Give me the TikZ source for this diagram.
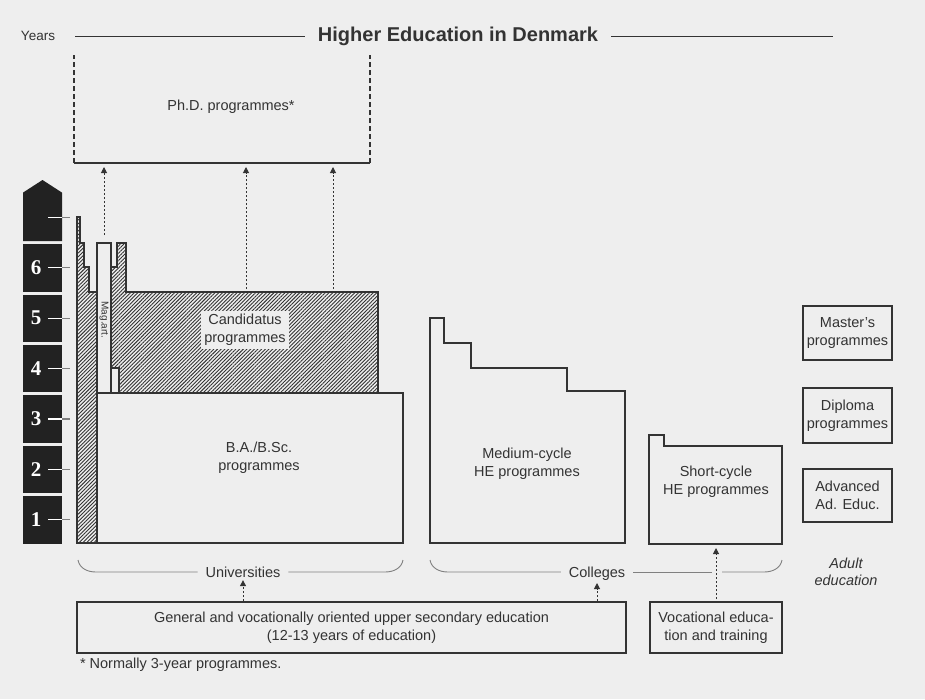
\documentclass[tikz,border=0pt]{standalone}
\usepackage{fontspec}
\setmainfont{Liberation Sans}
\newfontfamily\numfont{Liberation Serif}
\usetikzlibrary{arrows.meta,patterns.meta,positioning}
\definecolor{ink}{HTML}{333333}
\definecolor{paper}{HTML}{EEEEEE}
\definecolor{bar}{HTML}{222222}

\begin{document}
\begin{tikzpicture}[x=1pt, y=-1pt,
    every node/.style={text=ink, font=\fontsize{14.5}{18}\selectfont, align=center, inner sep=0pt, outer sep=0pt},
    box/.style={draw=ink, line width=1.6pt, fill=paper},
    outline/.style={draw=ink, line width=1.6pt, line join=miter},
    hatch/.style={outline, pattern={Lines[angle=45,distance=2.6pt,line width=0.9pt]}, pattern color=ink},
    uparrow/.style={draw=ink, dash pattern=on 2pt off 2pt, line width=1pt, -{Triangle[length=6pt,width=6pt]}, shorten >=4pt, shorten <=3pt},
    brace/.style={draw=gray, line width=0.9pt},
    rule/.style={draw=ink, line width=1pt}]
    \fill[paper] (0,0) rectangle (925,699);
    \useasboundingbox (0,0) rectangle (925,699);

    % heading
    \node[font=\fontsize{13.5}{15}\selectfont] (years) at (38,36) {Years};
    \node[font=\fontsize{20}{24}\selectfont\bfseries, inner xsep=13pt] (title) at (458,36) {Higher Education in Denmark};
    \draw[rule] (75,36) -- (title.west);
    \draw[rule] (title.east) -- (833,36);

    % year scale
    \fill[bar] (23,192.6) -- (42.5,180) -- (62,192.6) -- (62,241) -- (23,241) -- cycle;
    \foreach \k in {1,...,6} {
        \fill[bar] (23,{545-50.4*\k+1.5}) rectangle (62,{545-50.4*(\k-1)-1.5});
        \node[text=white, font=\fontsize{21}{21}\selectfont\numfont\bfseries] (y\k) at (36,{545-50.4*(\k-0.5)}) {\k};
    }
    \foreach \k in {1,...,7} {
        \draw[white, line width=1.3pt] (48,{545-50.4*(\k-0.5)}) -- (62,{545-50.4*(\k-0.5)});
        \draw[gray, line width=1.3pt] (62,{545-50.4*(\k-0.5)}) -- (70,{545-50.4*(\k-0.5)});
    }

    % Ph.D.
    \node[minimum width=296pt, minimum height=108pt] (phd) at (222,109) {};
    \draw[ink, line width=1.5pt, dash pattern=on 5pt off 3pt] (phd.south west) -- (phd.north west);
    \draw[ink, line width=1.5pt, dash pattern=on 5pt off 3pt] (phd.south east) -- (phd.north east);
    \draw[ink, line width=2pt] (phd.south west) -- (phd.south east);
    \node (phdlbl) at (231,107) {Ph.D. programmes*};

    % universities
    \draw[box] (97,393) rectangle (403,543);
    \node (ba) at (259,458) {B.A./B.Sc.\\programmes};
    \draw[hatch] (77,543) -- (77,217) -- (80,217) -- (80,243) -- (84,243) -- (84,267) -- (89,267)
        -- (89,292) -- (97,292) -- (97,543) -- cycle;
    \draw[hatch] (117,243) -- (126,243) -- (126,292) -- (378,292) -- (378,393) -- (119,393)
        -- (119,368) -- (111,368) -- (111,267) -- (117,267) -- cycle;
    \node[fill=paper, inner sep=3pt] (cand) at (245,330) {Candidatus\\programmes};
    \node[box, minimum width=14pt, minimum height=150pt, anchor=north west] (magart) at (97,243) {};
    \node[rotate=-90, font=\fontsize{10}{12}\selectfont] (magartlbl) at (104,320) {Mag.art.};

    % colleges
    \draw[outline] (430,318) -- (444,318) -- (444,343) -- (471,343) -- (471,368) -- (567,368)
        -- (567,391) -- (625,391) -- (625,543) -- (430,543) -- cycle;
    \node (medium) at (527,464) {Medium-cycle\\HE programmes};
    \draw[outline] (649,435) -- (664,435) -- (664,446) -- (782,446) -- (782,544) -- (649,544) -- cycle;
    \node (short) at (716,482) {Short-cycle\\HE programmes};
    \coordinate (scbase) at (716,544);

    % adult education
    \node[box, minimum width=89pt, minimum height=54pt] (master) at (847.5,333) {Master's\\programmes};
    \node[box, minimum width=89pt, minimum height=55pt] (diploma) at (847.5,415.5) {Diploma\\programmes};
    \node[box, minimum width=89pt, minimum height=53pt] (advanced) at (847.5,495.5) {Advanced\\Ad. Educ.};
    \node[font=\fontsize{14.5}{17}\selectfont\itshape] (adult) at (846,572) {Adult\\education};

    % braces
    \node[fill=paper, inner xsep=8pt, inner ysep=2pt, anchor=base] (uni) at (243,577) {Universities};
    \draw[brace] (78,560) to[out=-80,in=180] (96,572) -- (uni.west |- 0,572);
    \draw[brace] (uni.east |- 0,572) -- (385,572) to[out=0,in=-100] (403,560);
    \node[fill=paper, inner xsep=8pt, inner ysep=2pt, anchor=base] (colleges) at (597,577) {Colleges};
    \draw[brace] (430,560) to[out=-80,in=180] (448,572) -- (colleges.west |- 0,572);
    \draw[brace] (colleges.east |- 0,572) -- (712,572);
    \draw[brace] (722,572) -- (764,572) to[out=0,in=-100] (782,560);

    % entry level
    \node[box, minimum width=549pt, minimum height=51pt] (sec) at (351.5,627.5) {General and vocationally oriented upper secondary education\\(12-13 years of education)};
    \node[box, minimum width=132pt, minimum height=51pt] (voc) at (716,627.5) {Vocational educa-\\tion and training};
    \node[anchor=west] (note) at (80,665) {* Normally 3-year programmes.};

    % arrows
    \draw[uparrow, shorten >=1pt, shorten <=1pt] (sec.north -| uni.south) -- (uni.south);
    \draw[uparrow, shorten >=1pt, shorten <=1pt] (sec.north -| colleges.south) -- (colleges.south);
    \draw[uparrow] (voc.north) -- (scbase);
    \coordinate (c1) at (246,292);
    \coordinate (c2) at (333,292);
    \draw[uparrow, shorten <=8pt] (magart.north) -- (magart.north |- phd.south);
    \draw[uparrow] (c1) -- (c1 |- phd.south);
    \draw[uparrow] (c2) -- (c2 |- phd.south);
\end{tikzpicture}
\end{document}
